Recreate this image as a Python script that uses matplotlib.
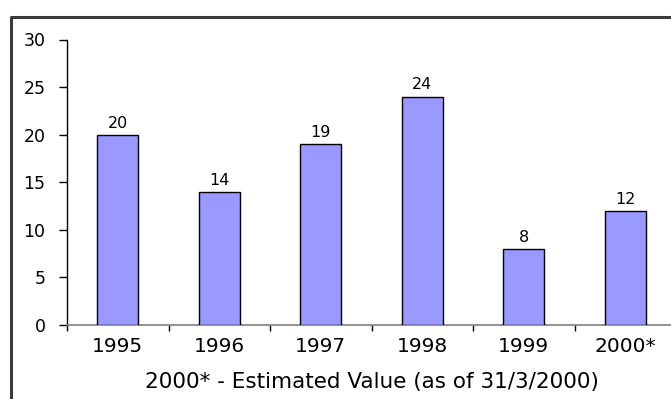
import matplotlib
matplotlib.use("Agg")
import matplotlib.pyplot as plt
from matplotlib.lines import Line2D

plt.rcParams['font.family'] = ['DejaVu Sans']

years = ["1995", "1996", "1997", "1998", "1999", "2000*"]
counts = [20, 14, 19, 24, 8, 12]
y_ticks = [0, 5, 10, 15, 20, 25, 30]
x_caption = "2000* - Estimated Value (as of 31/3/2000)"

W, H = 671, 399
fig = plt.figure(figsize=(W / 100, H / 100), dpi=100)

# plot area in pixel terms: x from 67 to 676 (runs past the right edge), y from 39 to 325
left, right, top, bottom = 67, 676, 39.5, 325
ax = fig.add_axes([left / W, 1 - bottom / H, (right - left) / W, (bottom - top) / H])

x = list(range(len(years)))
ax.bar(x, counts, width=0.4, color='#9999FF', edgecolor='black', linewidth=1, zorder=3)

for xi, v in zip(x, counts):
    ax.annotate(str(v), (xi, v), xytext=(0, 3), textcoords='offset points',
                ha='center', va='bottom', fontsize=11.5, color='black')

ax.set_xlim(-0.5, len(years) - 0.5)
ax.set_ylim(0, 30)
ax.set_yticks(y_ticks)
ax.set_yticklabels([str(t) for t in y_ticks], fontsize=12.5)

ax.set_xticks(x)
ax.set_xticklabels(years, fontsize=14.5)
ax.set_xticks([i - 0.5 for i in range(len(years) + 1)], minor=True)
ax.tick_params(axis='x', which='major', length=0, pad=9)
ax.tick_params(axis='x', which='minor', length=4, width=1, color='black', direction='out')
ax.tick_params(axis='y', which='major', length=6, width=1, color='black', direction='out', pad=9.5)

ax.set_xlabel(x_caption, fontsize=15.5, labelpad=11)

for side in ('top', 'right'):
    ax.spines[side].set_visible(False)
ax.spines['left'].set_color('black')
ax.spines['left'].set_linewidth(1)
ax.spines['bottom'].set_color('#808080')
ax.spines['bottom'].set_linewidth(1.2)

# outer chart border: left and top edges
fig.add_artist(Line2D([11 / W, 11 / W, 1.0], [0.0, 1 - 16.5 / H, 1 - 16.5 / H],
                      transform=fig.transFigure, color='#3a3a3a', linewidth=2.2))

fig.savefig("out.png", dpi=100)
